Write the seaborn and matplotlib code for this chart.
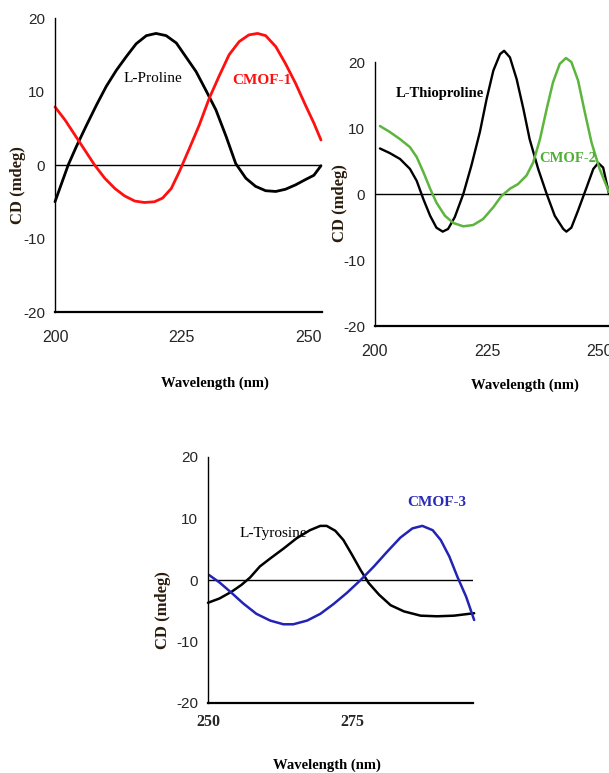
import pandas as pd
import matplotlib
matplotlib.use("Agg")
import matplotlib.pyplot as plt
import seaborn as sns

sns.set_style('white')
plt.rcParams['font.family'] = ['Liberation Sans', 'DejaVu Sans']
plt.rcParams['axes.unicode_minus'] = False

# ---- panel 1: L-Proline / CMOF-1 ----
lpro_wl = [200, 201.3, 202.6, 204.2, 206.2, 208.2, 210.1, 212.1, 214.1, 216.0, 218, 219.9,
           221.9, 223.9, 225.8, 227.8, 229.7, 231.7, 233.7, 235.6, 237.6, 239.5, 241.5,
           243.5, 245.4, 247.4, 249.3, 251, 252.4]
lpro_cd = [-5.0, -2.5, 0, 2.5, 5.4, 8.2, 10.7, 12.9, 14.8, 16.5, 17.6, 17.9,
           17.6, 16.6, 14.7, 12.7, 10.2, 7.5, 3.9, 0.2, -1.8, -2.9, -3.5,
           -3.6, -3.3, -2.7, -2.0, -1.4, -0.1]
cmof1_wl = [200, 202, 203.9, 205.9, 207.8, 209.8, 211.8, 213.7, 215.7, 217.6, 219.6, 221.2,
            222.9, 224.5, 226.5, 228.4, 230.4, 232.4, 234.3, 236.3, 238.2, 239.9, 241.5,
            243.5, 245.4, 247.4, 249.3, 251, 252.4]
cmof1_cd = [7.9, 6.1, 4.1, 2.0, 0, -1.8, -3.2, -4.2, -4.9, -5.1, -5.0, -4.5,
            -3.2, -0.9, 2.3, 5.4, 9.1, 12.2, 15, 16.8, 17.7, 17.9, 17.6,
            16.1, 13.8, 11.1, 8.2, 5.7, 3.4]

# ---- panel 2: L-Thioproline / CMOF-2 ----
lthio_wl = [201.1, 203.3, 205.6, 207.8, 209.3, 210.8, 212.3, 213.7, 215.1, 216.3, 217.8,
            219.7, 221.5, 223.4, 224.9, 226.4, 227.9, 228.8, 230.1, 231.6, 233.1, 234.5,
            236.4, 238.3, 240.1, 242, 242.7, 243.8, 245.3, 247.2, 248.7, 249.8, 250.9,
            252.2]
lthio_cd = [6.9, 6.2, 5.3, 3.8, 2.0, -0.8, -3.3, -5.1, -5.7, -5.3, -3.5,
            0, 4.3, 9.4, 14.4, 18.7, 21.2, 21.7, 20.7, 17.4, 12.9, 8.3,
            3.8, 0, -3.3, -5.3, -5.7, -5.1, -2.5, 1.0, 3.8, 4.7, 4.0,
            0]
cmof2_wl = [201.1, 203.3, 205.6, 207.8, 209.3, 210.8, 212.3, 213.7, 215.6, 217.5, 219.7,
            221.9, 224.1, 226.4, 228.2, 230.1, 231.9, 233.8, 235.3, 236.8, 238.3, 239.7,
            241.2, 242.6, 243.8, 245.3, 246.8, 248.3, 250.1, 252.2]
cmof2_cd = [10.3, 9.4, 8.3, 7.1, 5.6, 3.3, 0.8, -1.3, -3.3, -4.4, -4.9,
            -4.7, -3.8, -2.0, -0.3, 0.8, 1.5, 2.8, 4.8, 8.3, 12.9, 16.9,
            19.7, 20.6, 20, 17.2, 12.4, 7.8, 3.8, 0.3]

# ---- panel 3: L-Tyrosine / CMOF-3 ----
ltyr_wl = [250, 252, 254.1, 255.8, 257.3, 259, 260.8, 263.1, 265.4, 267.7, 269.5, 270.6,
           272.1, 273.5, 275, 276.5, 277.9, 279.7, 281.7, 284, 286.9, 289.8, 292.7, 296.2]
ltyr_cd = [-3.7, -3.0, -1.9, -0.8, 0.4, 2.2, 3.5, 5.1, 6.8, 8.1, 8.8, 8.8,
           8.0, 6.5, 4.1, 1.6, -0.5, -2.4, -4.1, -5.1, -5.8, -5.9, -5.8, -5.4]
cmof3_wl = [250.2, 252, 254.1, 256.1, 258.4, 260.8, 263.1, 264.8, 267.2, 269.5, 271.8,
            274.1, 276.5, 278.8, 281.1, 283.4, 285.5, 287.2, 289, 290.4, 291.9, 293.3,
            294.8, 296.2]
cmof3_cd = [0.8, -0.4, -2.1, -3.8, -5.5, -6.6, -7.2, -7.2, -6.6, -5.5, -3.9,
            -2.1, 0, 2.2, 4.6, 6.9, 8.4, 8.8, 8.1, 6.5, 3.8, 0.5,
            -2.7, -6.5]

yticks = [-20, -10, 0, 10, 20]

W, H = 609, 773
fig = plt.figure(figsize=(W / 100, H / 100), dpi=100)


def make_ax(left, right, top, bottom, xlim, xticks, serif_ticks=False):
    ax = fig.add_axes([left / W, 1 - bottom / H, (right - left) / W, (bottom - top) / H])
    ax.set_xlim(*xlim)
    ax.set_ylim(-20, 20)
    ax.set_xticks(xticks)
    ax.set_yticks(yticks)
    for s in ['top', 'right']:
        ax.spines[s].set_visible(False)
    ax.spines['left'].set_linewidth(1.0)
    ax.spines['bottom'].set_linewidth(1.6)
    ax.spines['left'].set_color('black')
    ax.spines['bottom'].set_color('black')
    ax.tick_params(axis='y', length=0, pad=7, labelsize=11)
    if serif_ticks:
        ax.tick_params(axis='x', direction='inout', length=6, width=1, pad=5, labelsize=11.5)
        for t in ax.get_xticklabels():
            t.set_family('Liberation Serif')
            t.set_weight('bold')
    else:
        ax.tick_params(axis='x', direction='inout', length=6, width=1, pad=10, labelsize=11.5)
    ax.axhline(0, color='black', lw=1)
    return ax


def curve(ax, wl, cd, color, lw=1.8):
    df = pd.DataFrame({'wl': wl, 'cd': cd})
    sns.lineplot(data=df, x='wl', y='cd', ax=ax, color=color, lw=lw, sort=False,
                 estimator=None)
    ax.lines[-1].set_clip_on(False)
    ax.lines[-1].set_solid_joinstyle('round')
    ax.set_xlabel('')
    ax.set_ylabel('')


def label(x, y, s, color='black', weight='bold', size=10.5, rot=0):
    fig.text(x / W, 1 - y / H, s, color=color, fontweight=weight, fontsize=size,
             family='Liberation Serif', ha='center', va='center', rotation=rot)


ax1 = make_ax(55, 322, 18, 312, (200, 252.6), [200, 225, 250])
curve(ax1, lpro_wl, lpro_cd, 'black', 2.0)
curve(ax1, cmof1_wl, cmof1_cd, '#ff1010', 2.0)

ax2 = make_ax(375, 609, 62, 326, (200, 252.2), [200, 225, 250])
curve(ax2, lthio_wl, lthio_cd, 'black', 1.7)
curve(ax2, cmof2_wl, cmof2_cd, '#5cb53c', 1.8)

ax3 = make_ax(208, 473, 457, 703, (250, 296), [250, 275], serif_ticks=True)
curve(ax3, ltyr_wl, ltyr_cd, 'black', 1.8)
curve(ax3, cmof3_wl, cmof3_cd, '#2323b5', 1.8)

# annotations
label(153, 78, 'L-Proline', weight='normal', size=11)
label(262, 80, 'CMOF-1', color='#ff1010', size=11)
label(440, 93, 'L-Thioproline', size=10.5)
label(568, 158, 'CMOF-2', color='#4fae35', size=10.5)
label(273, 533, 'L-Tyrosine', weight='normal', size=11)
label(437, 503, 'CMOF-3', color='#2a2ab8', size=11)

# axis titles
for (xl, yl), (yx, yy) in [((215, 383), (18, 185)), ((525, 385), (340, 203)),
                           ((327, 765), (163, 610))]:
    label(xl, yl, 'Wavelength (nm)', size=10.5)
    label(yx, yy, 'CD (mdeg)', color='#2a1c0c', size=12, rot=90)

fig.savefig('out.png', dpi=100)
